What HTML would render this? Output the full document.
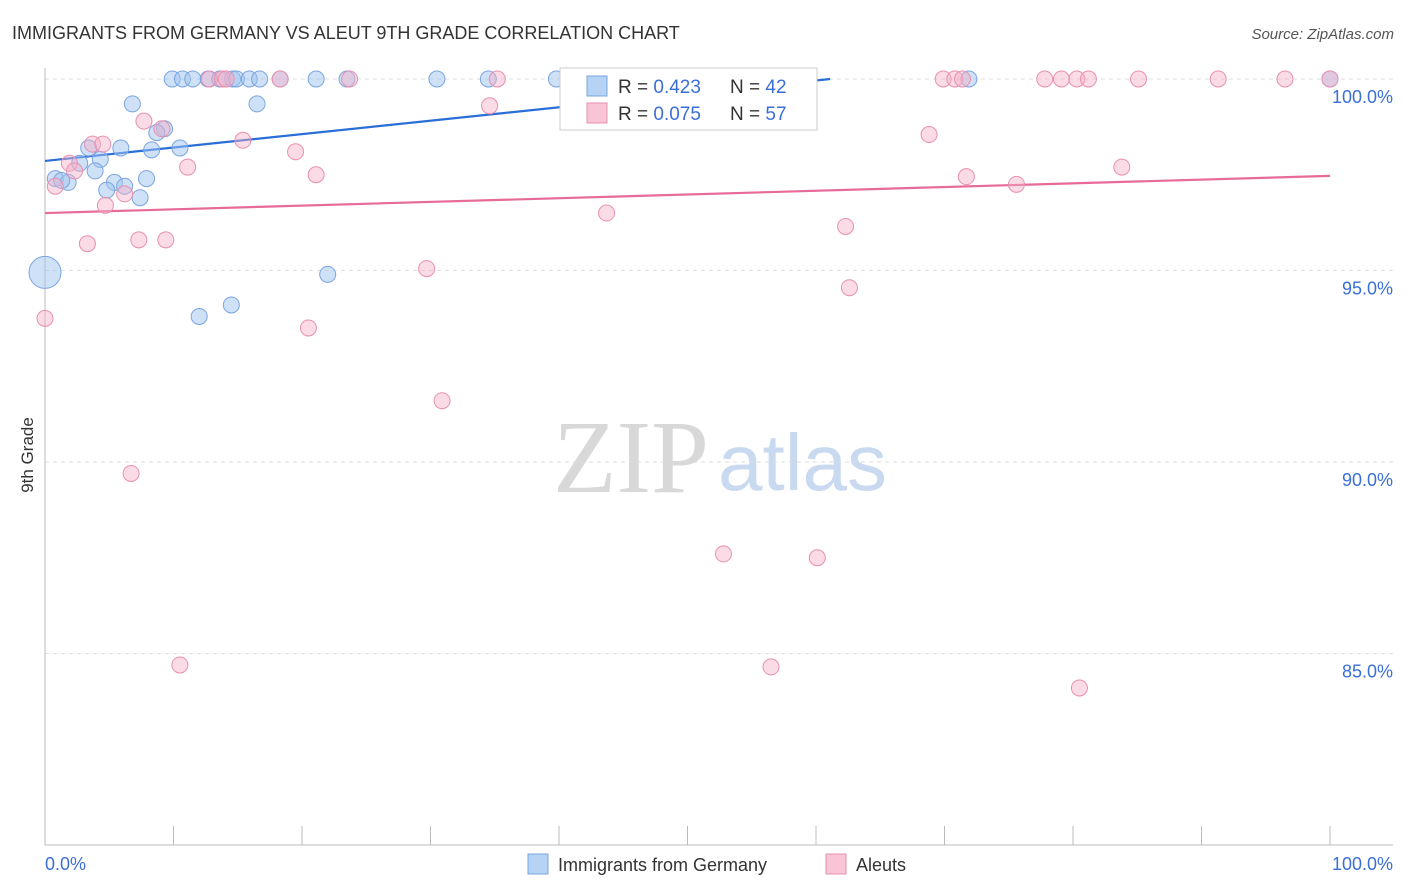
<!DOCTYPE html>
<html><head><meta charset="utf-8"><style>
body{margin:0;background:#fff;font-family:"Liberation Sans",sans-serif;}
svg{display:block}
</style></head><body>
<svg width="1406" height="892" id="chart">
<text x="12" y="39" font-size="18" fill="#333">IMMIGRANTS FROM GERMANY VS ALEUT 9TH GRADE CORRELATION CHART</text>
<text x="1394" y="39" font-size="15" fill="#555" font-style="italic" text-anchor="end">Source: ZipAtlas.com</text>
<text x="33" y="455" font-size="17" fill="#333" transform="rotate(-90 33 455)" text-anchor="middle">9th Grade</text>
<text x="553" y="492" font-size="104" fill="#d8d8d8" font-family="Liberation Serif">ZIP</text>
<text x="718" y="490" font-size="80" fill="#c9daf0">atlas</text>
<g id="grid"></g><g id="ticks"></g><g id="lines"></g><g id="pts"></g>
<g>
<rect x="560" y="68" width="257" height="62" fill="#fff" stroke="#ccc"/>
<rect x="587" y="76" width="20" height="20" fill="#b6d2f5" stroke="#7aa5e0"/>
<text x="618" y="93" font-size="19" fill="#333">R = <tspan fill="#3a6fd8">0.423</tspan></text>
<text x="730" y="93" font-size="19" fill="#333">N = <tspan fill="#3a6fd8">42</tspan></text>
<rect x="587" y="103" width="20" height="20" fill="#f9c4d6" stroke="#e890b0"/>
<text x="618" y="120" font-size="19" fill="#333">R = <tspan fill="#3a6fd8">0.075</tspan></text>
<text x="730" y="120" font-size="19" fill="#333">N = <tspan fill="#3a6fd8">57</tspan></text>
</g>
<g>
<rect x="528" y="854" width="20" height="20" fill="#b6d2f5" stroke="#7aa5e0"/>
<text x="558" y="871" font-size="18" fill="#333">Immigrants from Germany</text>
<rect x="826" y="854" width="20" height="20" fill="#f9c4d6" stroke="#e890b0"/>
<text x="856" y="871" font-size="18" fill="#333">Aleuts</text>
</g>
<text x="45" y="870" font-size="18" fill="#3a6fd8">0.0%</text>
<text x="1393" y="870" font-size="18" fill="#3a6fd8" text-anchor="end">100.0%</text>
</svg>
<script>
const yTicks=[100,95,90,85];
const yTickLabels=["100.0%","95.0%","90.0%","85.0%"];
const blueX=[9.9,10.7,11.5,12.7,13.6,14.6,14.9,15.9,16.7,18.3,21.1,23.5,30.5,34.5,39.8,71.9,100,6.8,16.5,9.3,8.7,3.4,5.9,8.3,10.5,4.3,2.7,3.9,0.8,1.8,1.3,5.4,6.2,4.8,7.9,7.4,0,22.0,12.0,14.5];
const blueY=[100,100,100,100,100,100,100,100,100,100,100,100,100,100,100,100,100,99.35,99.35,98.7,98.6,98.2,98.2,98.15,98.2,97.9,97.8,97.6,97.4,97.3,97.35,97.3,97.2,97.1,97.4,96.9,94.95,94.9,93.8,94.1];
const pinkX=[0,0.8,1.9,2.3,3.7,4.5,3.3,4.7,6.2,7.3,9.4,7.7,9.1,11.1,15.4,19.5,21.1,20.5,29.7,30.9,6.7,10.5,12.8,13.8,14.1,18.3,23.7,35.2,34.6,43.7,47.5,55.6,52.8,60.1,56.5,62.3,62.6,68.8,69.9,70.8,71.4,71.7,75.6,77.8,79.1,80.3,81.2,85.1,91.3,96.5,100,83.8,80.5];
const pinkY=[93.75,97.2,97.8,97.6,98.3,98.3,95.7,96.7,97.0,95.8,95.8,98.9,98.7,97.7,98.4,98.1,97.5,93.5,95.05,91.6,89.7,84.7,100,100,100,100,100,100,99.3,96.5,100,100,87.6,87.5,84.65,96.15,94.55,98.55,100,100,100,97.45,97.25,100,100,100,100,100,100,100,100,97.7,84.1];
const blueTrend=[[0,97.86],[61.1,100]];
const pinkTrend=[[0,96.5],[100,97.47]];
const X=v=>45+v*12.85, Y=v=>79+(100-v)*38.3;
const NS="http://www.w3.org/2000/svg";
function mk(t,a,p){const e=document.createElementNS(NS,t);for(const k in a)e.setAttribute(k,a[k]);document.getElementById(p).appendChild(e);return e;}
yTicks.forEach((t,i)=>{
 const g=mk('line',{x1:45,x2:1393,y1:Y(t),y2:Y(t),stroke:'#ddd','stroke-dasharray':'4,4'},'grid');
 
 
 const l=mk('text',{x:1393,y:Y(t)+24,'font-size':18,fill:'#3a6fd8','text-anchor':'end'},'grid');
 l.textContent=yTickLabels[i];
 
 
});
mk('line',{x1:45,x2:45,y1:68,y2:845,stroke:'#bbb'},'ticks');
mk('line',{x1:45,x2:1393,y1:845,y2:845,stroke:'#bbb'},'ticks');
for(let i=0;i<=10;i++){const t=mk('line',{x1:X(i*10),x2:X(i*10),y1:826,y2:845,stroke:'#bbb'},'ticks');
 
 }
const bl=mk('line',{x1:X(blueTrend[0][0]),y1:Y(blueTrend[0][1]),x2:X(blueTrend[1][0]),y2:Y(blueTrend[1][1]),stroke:'#2a6ed8','stroke-width':2.2},'lines');


const pl=mk('line',{x1:X(pinkTrend[0][0]),y1:Y(pinkTrend[0][1]),x2:X(pinkTrend[1][0]),y2:Y(pinkTrend[1][1]),stroke:'#e86a98','stroke-width':2.2},'lines');


blueX.forEach((v,i)=>{const c=mk('circle',{cx:X(v),cy:Y(blueY[i]),r:(i==36?16:8),fill:'rgba(160,195,240,0.5)',stroke:'#7aa5e0','stroke-width':1},'pts');
 
 });
pinkX.forEach((v,i)=>{const c=mk('circle',{cx:X(v),cy:Y(pinkY[i]),r:8,fill:'rgba(245,175,200,0.45)',stroke:'#e890b0','stroke-width':1},'pts');
 
 });
</script>
</body></html>
